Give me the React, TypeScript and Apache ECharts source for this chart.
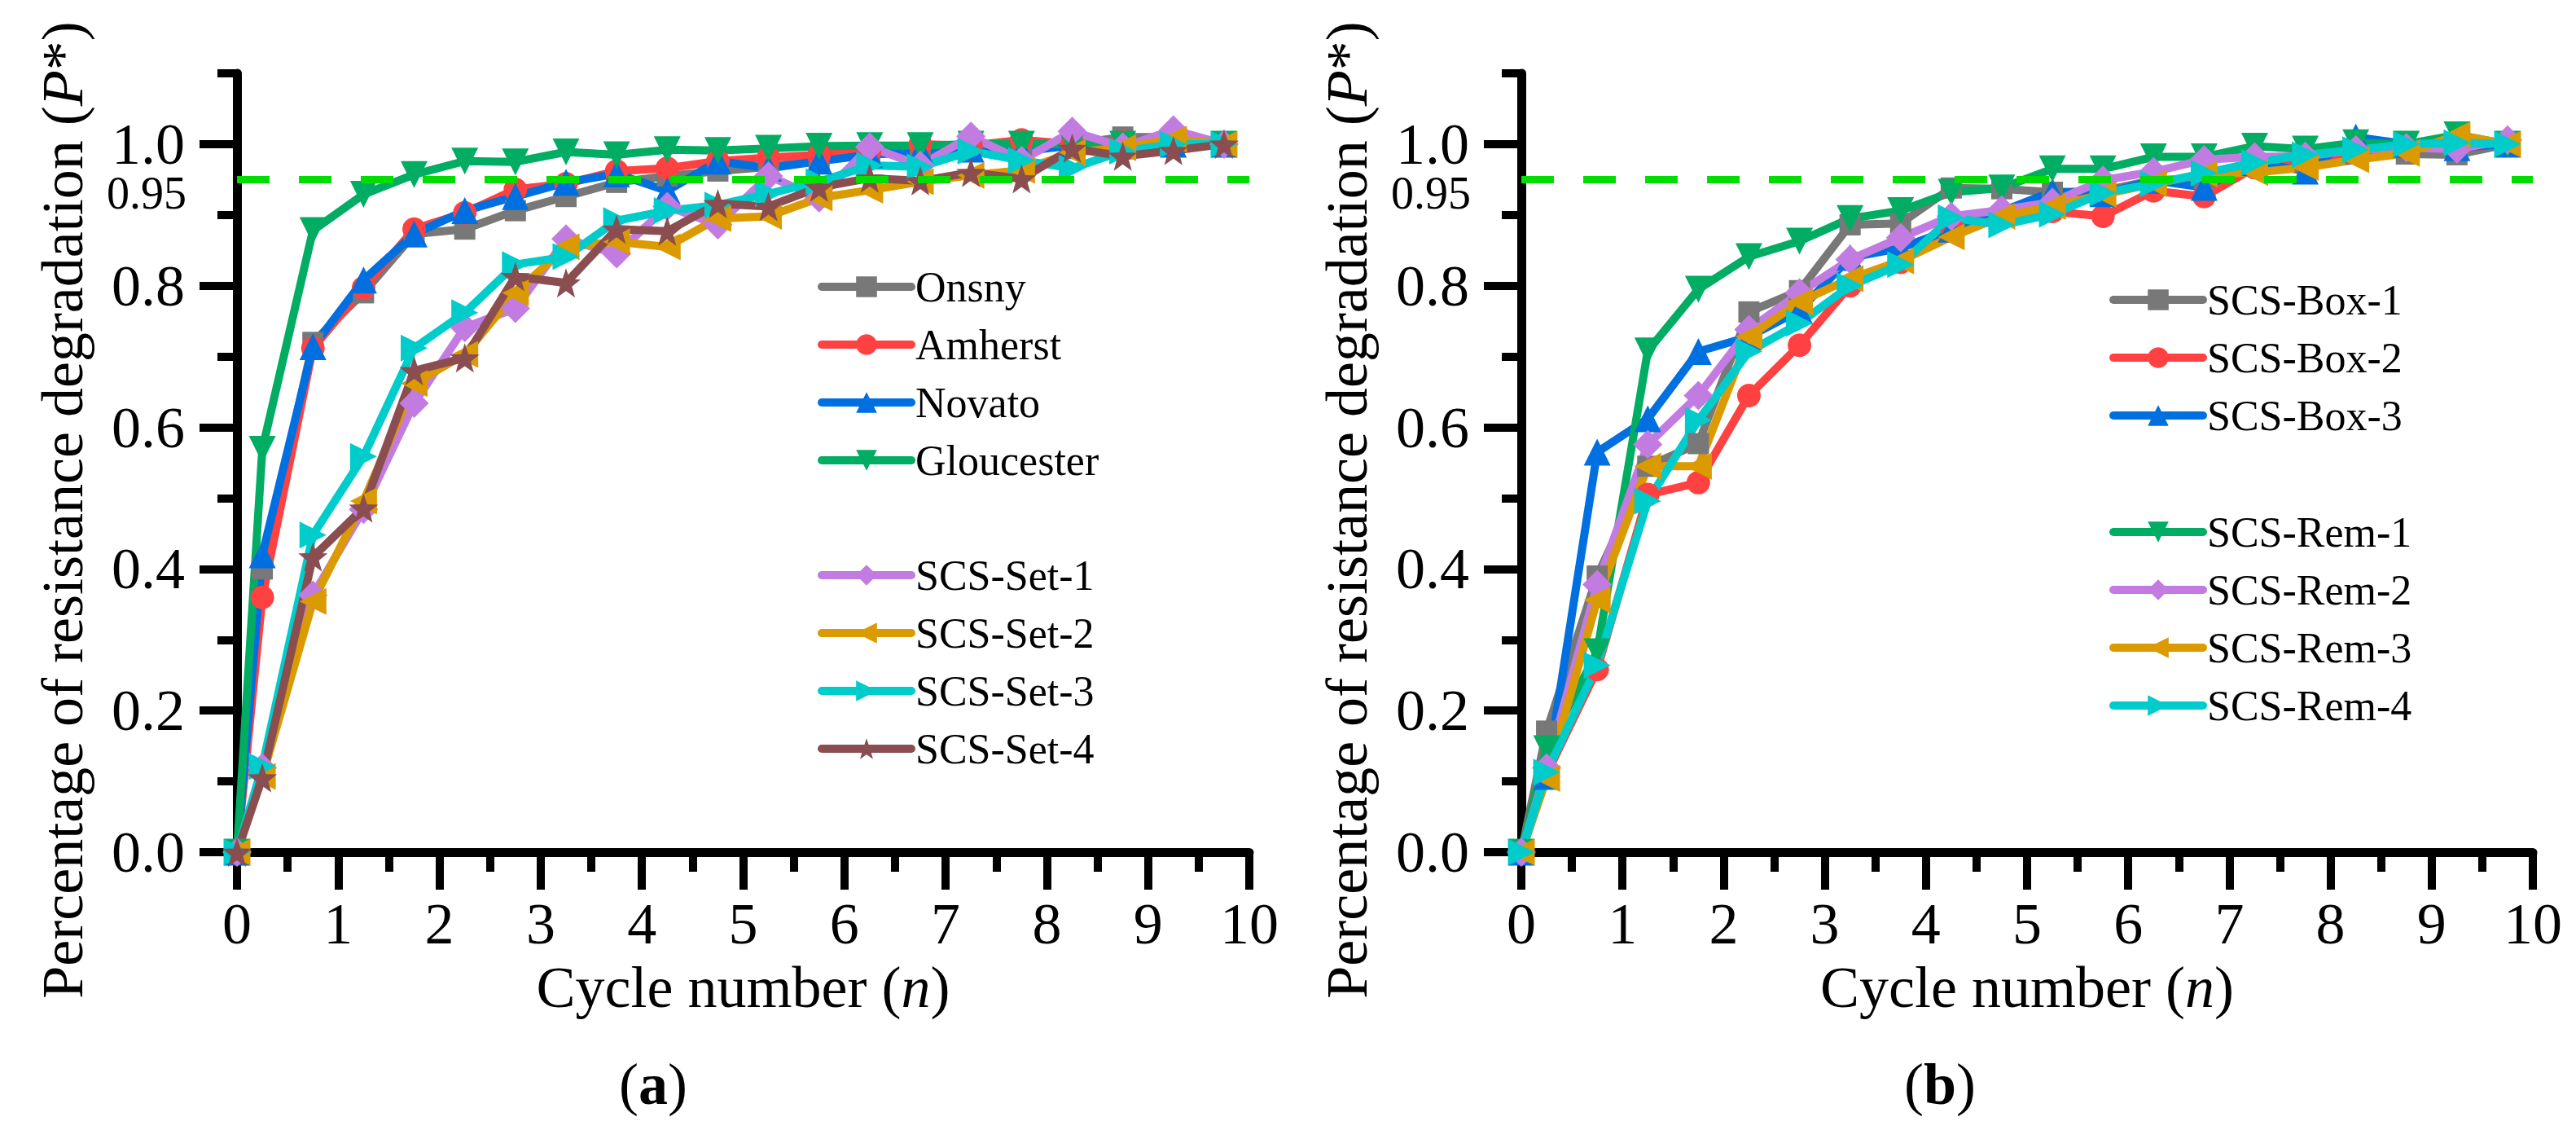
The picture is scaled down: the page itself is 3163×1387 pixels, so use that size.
import * as echarts from "echarts";
import { useEffect, useRef } from "react";

const FONT = "Liberation Serif";

// cycle positions of the measured points
const cycleX = [0, 0.25, 0.75, 1.25, 1.75, 2.25, 2.75, 3.25, 3.75, 4.25, 4.75, 5.25, 5.75, 6.25, 6.75, 7.25, 7.75, 8.25, 8.75, 9.25, 9.75];

// panel (a)
const onsny = [0, 0.4, 0.72, 0.79, 0.873, 0.88, 0.906, 0.926, 0.946, 0.955, 0.962, 0.968, 0.978, 0.985, 0.99, 0.995, 0.998, 1.0, 1.01, 1.01, 1.0];
const amherst = [0, 0.36, 0.712, 0.797, 0.88, 0.903, 0.936, 0.944, 0.962, 0.966, 0.976, 0.981, 0.985, 0.99, 1.0, 0.998, 1.006, 1.0, 1.004, 1.0, 1.0];
const novato = [0, 0.42, 0.714, 0.808, 0.873, 0.906, 0.926, 0.946, 0.958, 0.934, 0.976, 0.966, 0.976, 0.985, 0.99, 0.993, 0.99, 0.998, 1.0, 1.0, 1.0];
const gloucester = [0, 0.569, 0.878, 0.929, 0.957, 0.976, 0.975, 0.989, 0.985, 0.992, 0.991, 0.994, 0.997, 0.998, 0.998, 1.0, 1.0, 1.0, 1.0, 1.0, 1.0];
const scsSet1 = [0, 0.119, 0.363, 0.484, 0.634, 0.741, 0.768, 0.866, 0.845, 0.912, 0.886, 0.955, 0.924, 0.996, 0.97, 1.011, 0.977, 1.018, 0.996, 1.02, 1.0];
const scsSet2 = [0, 0.107, 0.354, 0.496, 0.662, 0.703, 0.79, 0.855, 0.862, 0.855, 0.895, 0.898, 0.924, 0.935, 0.947, 0.956, 0.963, 0.988, 0.995, 1.007, 1.0];
const scsSet3 = [0, 0.121, 0.448, 0.559, 0.712, 0.762, 0.83, 0.841, 0.892, 0.906, 0.914, 0.93, 0.947, 0.97, 0.968, 0.99, 0.977, 0.966, 0.99, 1.0, 1.0];
const scsSet4 = [0, 0.105, 0.417, 0.486, 0.68, 0.698, 0.813, 0.804, 0.88, 0.877, 0.916, 0.912, 0.939, 0.952, 0.948, 0.96, 0.951, 0.994, 0.983, 0.991, 1.0];

// panel (b)
const scsBox1 = [0, 0.171, 0.39, 0.545, 0.577, 0.763, 0.793, 0.886, 0.888, 0.938, 0.937, 0.932, 0.934, 0.949, 0.952, 0.969, 0.975, 0.986, 0.986, 0.985, 1.0];
const scsBox2 = [0, 0.11, 0.258, 0.505, 0.522, 0.645, 0.716, 0.8, 0.833, 0.883, 0.895, 0.905, 0.898, 0.934, 0.926, 0.967, 0.974, 0.988, 0.995, 0.995, 1.0];
const scsBox3 = [0, 0.107, 0.565, 0.612, 0.707, 0.728, 0.765, 0.84, 0.853, 0.88, 0.905, 0.933, 0.93, 0.949, 0.939, 0.974, 0.962, 1.01, 1.0, 0.995, 1.0];
const scsRem1 = [0, 0.146, 0.283, 0.708, 0.795, 0.841, 0.863, 0.895, 0.906, 0.932, 0.938, 0.965, 0.965, 0.982, 0.982, 0.997, 0.993, 1.002, 1.0, 1.013, 1.0];
const scsRem2 = [0, 0.119, 0.378, 0.576, 0.645, 0.738, 0.79, 0.837, 0.868, 0.898, 0.907, 0.918, 0.949, 0.961, 0.978, 0.982, 0.983, 0.992, 0.995, 0.993, 1.006];
const scsRem3 = [0, 0.104, 0.356, 0.545, 0.545, 0.728, 0.777, 0.81, 0.835, 0.869, 0.898, 0.912, 0.929, 0.944, 0.958, 0.96, 0.967, 0.978, 0.987, 1.013, 1.0];
const scsRem4 = [0, 0.113, 0.264, 0.496, 0.61, 0.707, 0.747, 0.8, 0.83, 0.896, 0.886, 0.901, 0.931, 0.944, 0.959, 0.974, 0.985, 0.992, 1.0, 1.002, 1.0];

const majorYTicks = [0, 0.2, 0.4, 0.6, 0.8, 1.0];
const minorYTicks = [0.1, 0.3, 0.5, 0.7, 0.9, 1.1];
const threshold = 0.95;

const STAR = "path://M12,0 L15,8.6 L24,8.8 L16.9,14.3 L19.4,23 L12,17.9 L4.6,23 L7.1,14.3 L0,8.8 L9,8.6 Z";

const marker = {
  square: { symbol: "rect", rotate: 0, size: 26 },
  circle: { symbol: "circle", rotate: 0, size: 29 },
  up: { symbol: "triangle", rotate: 0, size: 33 },
  down: { symbol: "triangle", rotate: 180, size: 33 },
  diamond: { symbol: "diamond", rotate: 0, size: 36 },
  left: { symbol: "triangle", rotate: 90, size: 33 },
  right: { symbol: "triangle", rotate: -90, size: 33 },
  star: { symbol: STAR, rotate: 0, size: 36 },
};

const makeLine = (name: string, values: number[], color: string, m: any, grid: number) => ({
  name,
  type: "line",
  xAxisIndex: grid,
  yAxisIndex: grid * 2,
  data: cycleX.map((x, i) => [x, values[i]]),
  symbol: m.symbol,
  symbolRotate: m.rotate,
  symbolSize: m.size,
  lineStyle: { color, width: 10 },
  itemStyle: { color, borderWidth: 0 },
  z: 3,
});

const thresholdSeries = (grid: number) => ({
  type: "line",
  xAxisIndex: grid,
  yAxisIndex: grid * 2,
  data: [],
  z: 1,
  markLine: {
    silent: true,
    symbol: "none",
    lineStyle: { color: "#00DD00", width: 9, type: [40, 36] },
    label: {
      show: true,
      position: "start",
      formatter: "0.95",
      distance: 62,
      offset: [0, 17],
      fontSize: 56,
      lineHeight: 44,
      fontFamily: FONT,
      color: "#000",
    },
    data: [{ yAxis: threshold }],
  },
});

const black = { color: "#000", width: 10 };

const xAxisFor = (gridIndex: number) => ({
  gridIndex,
  type: "value",
  min: 0,
  max: 10,
  interval: 1,
  axisLine: { show: true, onZero: false, lineStyle: { color: "#000", width: 11 } },
  axisTick: { show: true, length: 46, lineStyle: black },
  minorTick: { show: true, splitNumber: 2, length: 24, lineStyle: black },
  axisLabel: { margin: 52, fontSize: 72, fontFamily: FONT, color: "#000" },
  splitLine: { show: false },
  name: "Cycle number ({i|n})",
  nameLocation: "middle",
  nameGap: 130,
  nameTextStyle: {
    fontSize: 72,
    fontFamily: FONT,
    color: "#000",
    rich: { i: { fontSize: 72, fontFamily: FONT, fontStyle: "italic", color: "#000" } },
  },
});

const yAxesFor = (gridIndex: number) => [
  {
    gridIndex,
    type: "value",
    min: 0,
    max: 1.1,
    interval: 0.1,
    position: "left",
    axisLine: { show: true, onZero: false, lineStyle: { color: "#000", width: 11 } },
    axisTick: { show: true, customValues: majorYTicks, length: 46, lineStyle: black },
    axisLabel: {
      customValues: majorYTicks,
      formatter: (v: number) => v.toFixed(1),
      margin: 64,
      fontSize: 72,
      lineHeight: 56,
      padding: [0, 0, 26, 0],
      fontFamily: FONT,
      color: "#000",
    },
    splitLine: { show: false },
    name: "Percentage of resistance degradation ({i|P}*)",
    nameLocation: "middle",
    nameGap: 178,
    nameTextStyle: {
      fontSize: 72,
      fontFamily: FONT,
      color: "#000",
      padding: [0, 116, 0, 0],
      rich: { i: { fontSize: 72, fontFamily: FONT, fontStyle: "italic", color: "#000" } },
    },
  },
  {
    gridIndex,
    type: "value",
    min: 0,
    max: 1.1,
    interval: 0.1,
    position: "left",
    axisLine: { show: false },
    axisTick: { show: true, customValues: minorYTicks, length: 24, lineStyle: black },
    axisLabel: { show: false },
    splitLine: { show: false },
  },
];

const legendFor = (names: string[], left: number, top: number) => ({
  data: names,
  orient: "vertical",
  left,
  top,
  itemWidth: 110,
  itemHeight: 32,
  itemGap: 19,
  selectedMode: false,
  lineStyle: { width: 10, cap: "round" },
  textStyle: { fontSize: 52, fontFamily: FONT, color: "#000" },
});

const panelLabel = (letter: string, x: number) => ({
  type: "text",
  x,
  y: 1331,
  style: {
    text: `{n|(}{b|${letter}}{n|)}`,
    align: "center",
    verticalAlign: "middle",
    rich: {
      n: { fontSize: 72, fontFamily: FONT, fill: "#000" },
      b: { fontSize: 72, fontFamily: FONT, fontWeight: "bold", fill: "#000" },
    },
  },
});

export default function App() {
  const chartRef = useRef<HTMLDivElement>(null);

  useEffect(() => {
    document.body.style.margin = "0";
    if (!chartRef.current) return;
    const chart = echarts.init(chartRef.current, null, { renderer: "svg" });

    const option = {
      animation: false,
      backgroundColor: "#fff",
      textStyle: { fontFamily: FONT },
      grid: [
        { left: 291, top: 90, width: 1243, height: 956 },
        { left: 1868, top: 90, width: 1242, height: 956 },
      ],
      xAxis: [xAxisFor(0), xAxisFor(1)],
      yAxis: [...yAxesFor(0), ...yAxesFor(1)],
      legend: [
        legendFor(["Onsny", "Amherst", "Novato", "Gloucester"], 999, 321),
        legendFor(["SCS-Set-1", "SCS-Set-2", "SCS-Set-3", "SCS-Set-4"], 999, 675),
        legendFor(["SCS-Box-1", "SCS-Box-2", "SCS-Box-3"], 2585, 337),
        legendFor(["SCS-Rem-1", "SCS-Rem-2", "SCS-Rem-3", "SCS-Rem-4"], 2585, 622),
      ],
      graphic: [panelLabel("a", 802), panelLabel("b", 2382)],
      series: [
        thresholdSeries(0),
        thresholdSeries(1),
        makeLine("Onsny", onsny, "#787878", marker.square, 0),
        makeLine("Amherst", amherst, "#FF4141", marker.circle, 0),
        makeLine("Novato", novato, "#0070E0", marker.up, 0),
        makeLine("Gloucester", gloucester, "#00AD62", marker.down, 0),
        makeLine("SCS-Set-1", scsSet1, "#C27BE0", marker.diamond, 0),
        makeLine("SCS-Set-2", scsSet2, "#DB9A00", marker.left, 0),
        makeLine("SCS-Set-3", scsSet3, "#00CCCC", marker.right, 0),
        makeLine("SCS-Set-4", scsSet4, "#8A4E51", marker.star, 0),
        makeLine("SCS-Box-1", scsBox1, "#787878", marker.square, 1),
        makeLine("SCS-Box-2", scsBox2, "#FF4141", marker.circle, 1),
        makeLine("SCS-Box-3", scsBox3, "#0070E0", marker.up, 1),
        makeLine("SCS-Rem-1", scsRem1, "#00AD62", marker.down, 1),
        makeLine("SCS-Rem-2", scsRem2, "#C27BE0", marker.diamond, 1),
        makeLine("SCS-Rem-3", scsRem3, "#DB9A00", marker.left, 1),
        makeLine("SCS-Rem-4", scsRem4, "#00CCCC", marker.right, 1),
      ],
    };

    chart.setOption(option as any);

    return () => {
      chart.dispose();
    };
  }, []);

  return <div ref={chartRef} style={{ width: "3163px", height: "1387px" }} />;
}
